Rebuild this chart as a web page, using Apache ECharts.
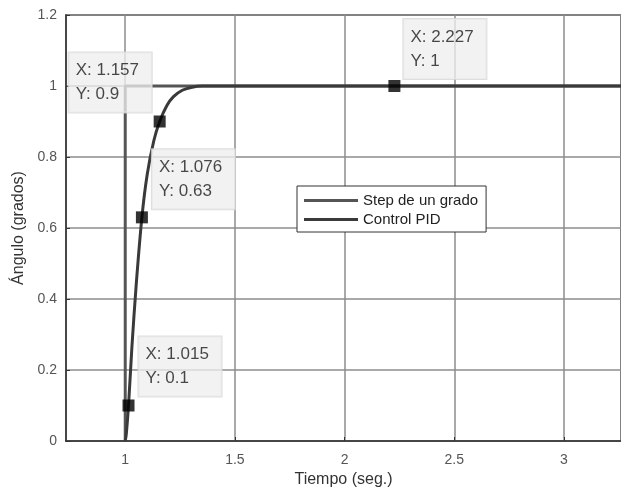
<!DOCTYPE html>
<html>
<head>
<meta charset="utf-8">
<script src="https://cdn.jsdelivr.net/npm/echarts@6/dist/echarts.min.js"></script>
<style>
  html, body { margin: 0; padding: 0; background: #fff; }
</style>
</head>
<body>
<div id="chart" style="width: 621px; height: 493px;"></div>
<script>
// step input (one degree at t = 1 s)
const stepX = [1, 1, 3.26]
const stepY = [0, 1, 1]

// PID response
const pidX = [1, 1.005, 1.015, 1.03, 1.05, 1.076, 1.1, 1.13, 1.157, 1.19, 1.22, 1.26, 1.3, 1.35, 1.5, 2.227, 3.26]
const pidY = [0, 0.02, 0.1, 0.26, 0.44, 0.63, 0.75, 0.845, 0.9, 0.945, 0.97, 0.988, 0.996, 1, 1, 1, 1]

// data tips
const tipX = [1.015, 1.076, 1.157, 2.227]
const tipY = [0.1, 0.63, 0.9, 1]

const seriesNames = ['Step de un grado', 'Control PID']

// where each data tip box sits relative to its marker (left edge, vertical centre)
const tipOffsets = [[10, -39], [10, -38], [-91, -39], [9, -37]]

const font = 'Liberation Sans, Arial, sans-serif'

const option = {
  animation: false,
  backgroundColor: '#fff',
  grid: {
    left: 66, right: -4, top: 15, bottom: 51,
    show: true, borderColor: '#333', borderWidth: 1.5, backgroundColor: 'transparent'
  },
  legend: {
    data: seriesNames,
    orient: 'vertical',
    left: 297, top: 186,
    padding: [7, 8, 5, 7],
    itemGap: 4,
    itemWidth: 54, itemHeight: 3,
    icon: 'rect',
    backgroundColor: '#fff',
    borderColor: '#333', borderWidth: 1,
    textStyle: { fontFamily: font, fontSize: 15, color: '#222' }
  },
  xAxis: {
    type: 'value',
    min: 0.73, max: 3.26,
    splitNumber: 5,
    name: 'Tiempo (seg.)',
    nameLocation: 'middle',
    nameGap: 31,
    nameTextStyle: { fontFamily: font, fontSize: 16, color: '#333' },
    axisLine: { show: true, lineStyle: { color: '#333', width: 1.5 } },
    axisTick: { inside: true, length: 4, lineStyle: { color: '#333' } },
    axisLabel: { showMinLabel: false, showMaxLabel: false, margin: 12, fontFamily: font, fontSize: 14, color: '#555' },
    splitLine: { show: true, lineStyle: { color: '#8c8c8c', width: 1.5 } }
  },
  yAxis: {
    type: 'value',
    min: 0, max: 1.2, interval: 0.2,
    name: 'Ángulo (grados)',
    nameLocation: 'middle',
    nameGap: 33,
    nameTextStyle: { fontFamily: font, fontSize: 16, color: '#333' },
    axisLine: { show: true, lineStyle: { color: '#333', width: 1.5 } },
    axisTick: { inside: true, length: 4, lineStyle: { color: '#333' } },
    axisLabel: { margin: 9, fontFamily: font, fontSize: 14, color: '#555' },
    splitLine: { show: true, lineStyle: { color: '#8c8c8c', width: 1.5 } }
  },
  series: [
    {
      name: seriesNames[0],
      type: 'line',
      showSymbol: false,
      color: '#555',
      lineStyle: { width: 3, color: '#555' },
      data: stepX.map((x, i) => [x, stepY[i]]),
      z: 2
    },
    {
      name: seriesNames[1],
      type: 'line',
      showSymbol: false,
      smooth: 0.3,
      color: '#3a3a3a',
      lineStyle: { width: 3, color: '#3a3a3a' },
      data: pidX.map((x, i) => [x, pidY[i]]),
      z: 3
    },
    {
      name: 'tips',
      type: 'scatter',
      symbol: 'rect',
      symbolSize: 12,
      itemStyle: { color: '#000' },
      z: 5,
      data: tipX.map((x, i) => ({
        value: [x, tipY[i]],
        label: {
          show: true,
          position: 'inside',
          offset: tipOffsets[i],
          formatter: p => 'X: ' + p.value[0] + '\nY: ' + p.value[1],
          fontFamily: font,
          fontSize: 17,
          lineHeight: 24,
          color: '#1a1a1a',
          align: 'left',
          width: 69,
          padding: [6, 7, 6, 7],
          backgroundColor: 'rgba(238,238,238,0.96)',
          borderColor: '#d6d6d6',
          borderWidth: 1
        }
      }))
    }
  ]
}

const chart = echarts.init(document.getElementById('chart'))
chart.setOption(option)
</script>
</body>
</html>
